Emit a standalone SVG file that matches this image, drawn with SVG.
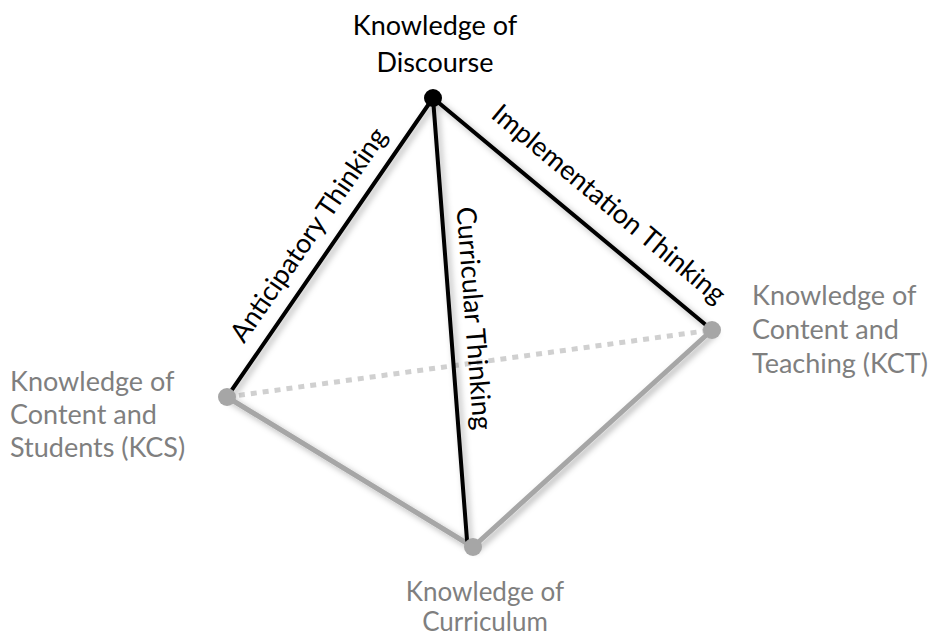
<svg xmlns="http://www.w3.org/2000/svg" width="933" height="640" viewBox="0 0 933 640">
<style>
.lbl{font-family:Lato,"Open Sans",sans-serif;font-size:27px;}
.dark{fill:#000;}
.gray{fill:#7f7f7f;}
.edge{font-family:Lato,"Open Sans",sans-serif;font-size:27px;fill:#000;}
.blk{stroke:#000;stroke-width:4;fill:none;stroke-linecap:round;}
.gry{stroke:#a6a6a6;stroke-width:5;fill:none;stroke-linecap:round;}
.dot{stroke:#d0d0d0;stroke-width:5;fill:none;stroke-dasharray:6 6;}
</style>
<defs>
<filter id="sh" x="-20%" y="-20%" width="140%" height="140%">
<feDropShadow dx="3" dy="3" stdDeviation="3" flood-color="#000" flood-opacity="0.3"/>
</filter>
</defs>
<rect width="933" height="640" fill="#fff"/>
<g id="connectors">
<line class="dot" x1="227" y1="397" x2="712" y2="330"/>
<g filter="url(#sh)">
<line class="gry" x1="227" y1="397" x2="473" y2="547"/>
<line class="gry" x1="473" y1="547" x2="712" y2="330"/>
<line class="blk" x1="433" y1="98" x2="227" y2="397"/>
<line class="blk" x1="433" y1="98" x2="712" y2="330"/>
<line class="blk" x1="433" y1="98" x2="467" y2="540"/>
</g>
<text class="edge" text-anchor="middle" transform="translate(316,240) rotate(-55.4)">Anticipatory Thinking</text>
<text class="edge" text-anchor="middle" transform="translate(465,319) rotate(85.6)">Curricular Thinking</text>
<text class="edge" text-anchor="middle" transform="translate(603,211) rotate(39.7)">Implementation Thinking</text>
</g>
<g id="node-discourse">
<circle cx="433" cy="98" r="9" fill="#000"/>
<text class="lbl dark" text-anchor="middle" x="435" y="35">Knowledge of</text>
<text class="lbl dark" text-anchor="middle" x="435" y="72">Discourse</text>
</g>
<g id="node-kcs">
<circle cx="227" cy="397" r="9" fill="#a6a6a6"/>
<text class="lbl gray" x="10" y="391">Knowledge of</text>
<text class="lbl gray" x="10" y="424">Content and</text>
<text class="lbl gray" x="10" y="457">Students (KCS)</text>
</g>
<g id="node-kct">
<circle cx="712" cy="330" r="9" fill="#a6a6a6"/>
<text class="lbl gray" x="752" y="305">Knowledge of</text>
<text class="lbl gray" x="752" y="339">Content and</text>
<text class="lbl gray" x="752" y="373">Teaching (KCT)</text>
</g>
<g id="node-curriculum">
<circle cx="473" cy="547" r="9" fill="#a6a6a6"/>
<text class="lbl gray" text-anchor="middle" x="485" y="601" style="font-size:26px">Knowledge of</text>
<text class="lbl gray" text-anchor="middle" x="485" y="631" style="font-size:26px">Curriculum</text>
</g>
</svg>
